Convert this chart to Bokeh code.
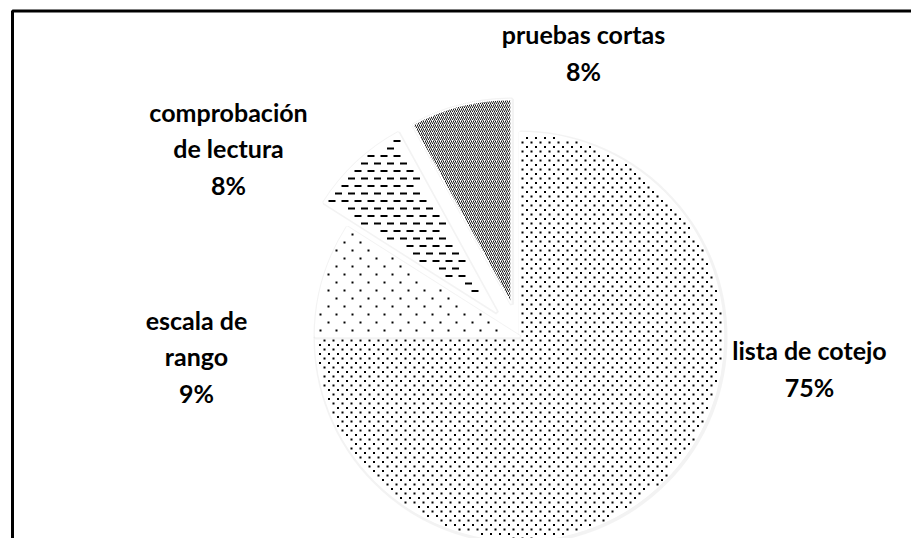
import math
from bokeh.plotting import figure
from bokeh.models import Range1d
from bokeh.core.properties import value
from bokeh.embed import file_html
from bokeh.resources import INLINE

# ---- data ----
categories = ["lista de cotejo", "escala de rango", "comprobación de lectura", "pruebas cortas"]
label_text = ["lista de cotejo", "escala de\nrango", "comprobación\nde lectura", "pruebas cortas"]
percent = [75, 9, 8, 8]

# ---- layout / style (not data) ----
explode = [0, 0, 34, 34]
# texture per slice: (kind, column step, row step, mark width, mark height)
textures = [
    ("dots", 9, 4.5, 2, 2),
    ("dots", 16, 8, 2, 2),
    ("dash", 13, 7.5, 7, 2),
    ("hatch", 0, 0, 0, 0),
]
# label block centres in page pixels
label_px = [(809, 368), (196, 356), (228, 148), (583, 52)]

W, H = 911, 538


def dx(px):
    return px


def dy(py):
    return H - py


p = figure(width=W, height=H, x_range=Range1d(0, W), y_range=Range1d(0, H),
           output_backend="svg", toolbar_location=None, min_border=0,
           x_axis_type=None, y_axis_type=None)
p.outline_line_color = None
p.background_fill_color = "white"
p.border_fill_color = "white"

# frame (top and left edges visible)
p.line([dx(12), dx(12), W], [0, dy(10.5), dy(10.5)], line_color="black", line_width=3)


def inside(x, y, ox, oy, rad, start, span, margin=1.5):
    ddx, ddy = x - ox, y - oy
    d = math.hypot(ddx, ddy)
    if d > rad - margin or d < 1:
        return False
    ang = (math.atan2(ddy, ddx) - start) % (2 * math.pi)
    if ang > span:
        return False
    a1 = ang
    a2 = span - ang
    if d * math.sin(min(a1, math.pi / 2)) < margin or d * math.sin(min(a2, math.pi / 2)) < margin:
        return False
    return True


cx, cy, r = dx(519), dy(336), 204
total = float(sum(percent))
cum = 0.0
for i, v in enumerate(percent):
    a = cum / total
    cum += v
    b = cum / total
    start = math.pi / 2 - 2 * math.pi * b
    end = math.pi / 2 - 2 * math.pi * a
    span = end - start
    mid = (start + end) / 2
    ox = cx + explode[i] * math.cos(mid)
    oy = cy + explode[i] * math.sin(mid)
    # soft shadow
    p.wedge(x=[ox + 1], y=[oy - 1], radius=r + 1, start_angle=start, end_angle=end,
            fill_color=None, line_color="#d0d0d0", line_width=4, line_alpha=0.25)
    kind, sx, sy, mw, mh = textures[i]
    if kind == "hatch":
        p.wedge(x=[ox], y=[oy], radius=r, start_angle=start, end_angle=end,
                fill_color="white", line_color="white", line_width=1.5,
                hatch_pattern="right_diagonal_line", hatch_color="black",
                hatch_scale=4, hatch_weight=0.9)
        continue
    p.wedge(x=[ox], y=[oy], radius=r, start_angle=start, end_angle=end,
            fill_color="white", line_color="white", line_width=1.5)
    xs, ys = [], []
    row = 0
    yy = 0.0
    while yy <= H:
        shift = (sx / 2) if row % 2 else 0
        xx = shift
        while xx <= W:
            if kind == "dots":
                ok = inside(xx, yy, ox, oy, r, start, span)
            else:
                ok = (inside(xx - mw / 2, yy, ox, oy, r, start, span) and
                      inside(xx + mw / 2, yy, ox, oy, r, start, span))
            if ok:
                xs.append(xx)
                ys.append(yy)
            xx += sx
        yy += sy
        row += 1
    p.rect(x=xs, y=ys, width=mw, height=mh, fill_color="black", line_color=None)

labels = [f"{t}\n{v}%" for t, v in zip(label_text, percent)]
p.text(x=[dx(x) for x, _ in label_px], y=[dy(y) for _, y in label_px], text=labels,
       text_font=value("Lato"), text_font_style="bold", text_font_size="25px",
       text_align="center", text_baseline="middle", text_line_height=1.22,
       text_color="black")

open("out.html", "w").write(file_html(p, INLINE))
